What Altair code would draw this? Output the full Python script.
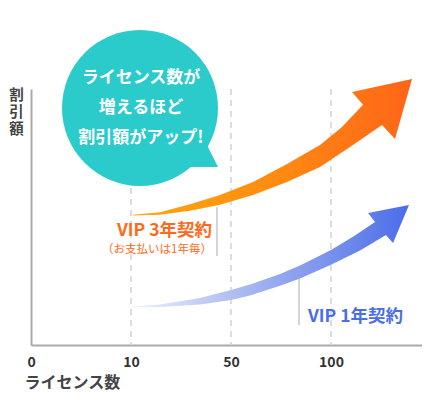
import json
import altair as alt
import pandas as pd

# x軸: 等間隔のスロット (0, 10, 50, 100)
slot_values = [0, 1, 2, 3]
slot_labels = ['0', '10', '50', '100']
grid_slots = [1, 2, 3]

# VIP 3年契約の矢印 (輪郭: 上辺 -> 矢じり -> 下辺)
orange_x = [1.02, 1.29, 1.59, 1.89, 2.22, 2.56, 2.89, 3.11, 3.32,
            3.21, 3.81, 3.64,
            3.51, 3.19, 2.89, 2.56, 2.22, 1.89, 1.59, 1.29, 1.02]
orange_y = [50.9, 51.9, 55.0, 58.6, 63.7, 70.7, 78.1, 85.2, 93.8,
            98.8, 103.9, 80.5,
            85.9, 77.3, 69.5, 63.7, 58.6, 54.8, 52.4, 50.9, 50.6]

# VIP 1年契約の矢印
blue_x = [1.02, 1.29, 1.69, 2.00, 2.19, 2.49, 2.69, 3.00, 3.24, 3.44,
          3.37, 3.78, 3.62,
          3.55, 3.29, 3.00, 2.69, 2.49, 2.19, 2.00, 1.69, 1.29, 1.02]
blue_y = [15.0, 15.8, 18.4, 21.5, 23.6, 27.7, 31.1, 37.1, 42.8, 48.0,
          51.6, 54.7, 39.8,
          43.0, 36.9, 31.3, 26.0, 23.1, 19.3, 17.6, 15.8, 14.8, 14.7]

# 吹き出し
bubble_x = [1.09]
bubble_y = [92.6]
tail_x = [1.75, 1.87, 1.55]
tail_y = [78.9, 69.5, 69.5]
bubble_text = 'ライセンス数が\n増えるほど\n割引額がアップ!'

# ラベルと引き出し線
label_3y = ['VIP 3年契約', '（お支払いは1年毎）']
label_3y_x = [1.81, 1.81]
label_3y_y = [44.7, 37.3]
label_1y = ['VIP 1年契約']
label_1y_x = [2.77]
label_1y_y = [10.9]
leader_x = [1.86, 2.68]
leader_top = [53.9, 27.0]
leader_bottom = [34.8, 7.8]

FONT = 'Noto Sans CJK JP'
TEAL = '#2bcbcb'
ORANGE = '#ff6a1a'
BLUE = '#4a6de8'

x_axis = alt.Axis(values=slot_values,
                  labelExpr=json.dumps(slot_labels) + '[datum.value]',
                  ticks=False, grid=False, labelFlush=False,
                  domainColor='#aaa', domainWidth=2,
                  labelFontSize=14, labelFontWeight='bold', labelColor='#333', labelPadding=10,
                  title='ライセンス数', titleFontSize=16, titleFontWeight='bold', titleColor='#444',
                  titleAnchor='start', titleAlign='left', titleX=-7, titleY=37.5, titleBaseline='middle')
y_axis = alt.Axis(labels=False, ticks=False, grid=False,
                  domainColor='#aaa', domainWidth=2,
                  title=['割', '引', '額'], titleAngle=0, titleAlign='center', titleBaseline='top',
                  titleX=-15, titleY=-1, titleFontSize=14.5, titleLineHeight=17,
                  titleFontWeight='bold', titleColor='#444')

x_enc = alt.X('x:Q', scale=alt.Scale(domain=[0, 3.91], nice=False, zero=False), axis=x_axis)
y_enc = alt.Y('y:Q', scale=alt.Scale(domain=[0, 100], nice=False), axis=y_axis)


def outline(xs, ys):
    return pd.DataFrame({'x': xs, 'y': ys, 'o': list(range(len(xs)))})


grid = alt.Chart(pd.DataFrame({'x': grid_slots})).mark_rule(
    color='#dddddd', strokeWidth=2, strokeDash=[6, 5]
).encode(x=x_enc)

tail = alt.Chart(outline(tail_x, tail_y)).mark_line(
    fill=TEAL, strokeOpacity=0
).encode(x=x_enc, y=y_enc, order='o:Q')

# 円の直径 156px
bubble = alt.Chart(pd.DataFrame({'x': bubble_x, 'y': bubble_y})).mark_point(
    shape='circle', filled=True, size=156 * 156, color=TEAL, opacity=1, strokeWidth=0
).encode(x=x_enc, y=y_enc)

bubble_label = alt.Chart(pd.DataFrame({'x': bubble_x, 'y': bubble_y, 't': [bubble_text]})).mark_text(
    align='center', baseline='middle', lineBreak='\n', lineHeight=30, dy=-30, dx=1,
    font=FONT, fontSize=17, fontWeight='bold', color='white'
).encode(x=x_enc, y=y_enc, text='t:N')

orange_arrow = alt.Chart(outline(orange_x, orange_y)).mark_line(
    fill=alt.Gradient(gradient='linear', x1=0, y1=0, x2=1, y2=0,
                      stops=[alt.GradientStop(color='#ffa80e', offset=0),
                             alt.GradientStop(color='#ff8c12', offset=0.5),
                             alt.GradientStop(color='#ff6418', offset=1)]),
    strokeOpacity=0, interpolate='linear'
).encode(x=x_enc, y=y_enc, order='o:Q')

blue_arrow = alt.Chart(outline(blue_x, blue_y)).mark_line(
    fill=alt.Gradient(gradient='linear', x1=0, y1=0, x2=1, y2=0,
                      stops=[alt.GradientStop(color='#eef1fc', offset=0),
                             alt.GradientStop(color='#a9b8f0', offset=0.4),
                             alt.GradientStop(color='#4a6de8', offset=1)]),
    strokeOpacity=0, interpolate='linear'
).encode(x=x_enc, y=y_enc, order='o:Q')

leaders = alt.Chart(pd.DataFrame({'x': leader_x, 'y': leader_top, 'y2': leader_bottom})).mark_rule(
    color='#aaaaaa', strokeWidth=1
).encode(x=x_enc, y=y_enc, y2='y2:Q')

text_3y = alt.Chart(pd.DataFrame({'x': label_3y_x[:1], 'y': label_3y_y[:1], 't': label_3y[:1]})).mark_text(
    align='right', baseline='middle', font=FONT, fontSize=17.5, fontWeight='bold', color=ORANGE
).encode(x=x_enc, y=y_enc, text='t:N')

text_3y_sub = alt.Chart(pd.DataFrame({'x': label_3y_x[1:], 'y': label_3y_y[1:], 't': label_3y[1:]})).mark_text(
    align='right', baseline='middle', font=FONT, fontSize=11.5, color=ORANGE
).encode(x=x_enc, y=y_enc, text='t:N')

text_1y = alt.Chart(pd.DataFrame({'x': label_1y_x, 'y': label_1y_y, 't': label_1y})).mark_text(
    align='left', baseline='middle', font=FONT, fontSize=17.5, fontWeight='bold', color=BLUE
).encode(x=x_enc, y=y_enc, text='t:N')

chart = alt.layer(
    grid, tail, bubble, bubble_label, orange_arrow, blue_arrow, leaders, text_3y, text_3y_sub, text_1y
).properties(
    width=391,
    height=256,
    padding={'left': 23, 'top': 81, 'right': 0, 'bottom': 47},
    autosize=alt.AutoSizeParams(type='none')
).configure(
    font=FONT
).configure_view(
    stroke=None
)

chart.save('out.html', embed_options={'renderer': 'svg', 'actions': False})
